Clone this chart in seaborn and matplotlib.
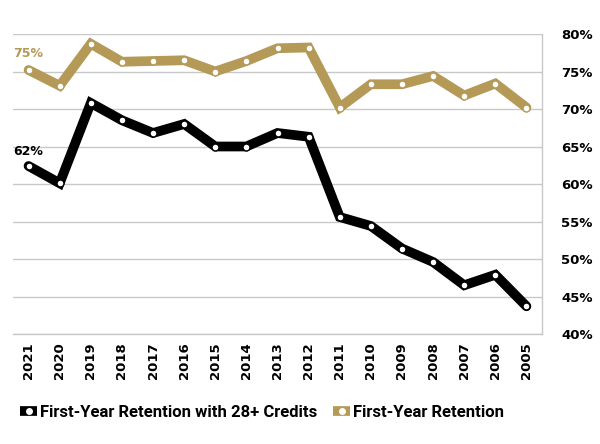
import matplotlib
matplotlib.use("Agg")
import matplotlib.pyplot as plt
import seaborn as sns
import pandas as pd

years = list(range(2005, 2022))
retention = [70.2, 73.4, 71.8, 74.4, 73.3, 73.3, 70.2, 78.2, 78.1, 76.4, 75.0, 76.5, 76.4, 76.3, 78.7, 73.1, 75.2]
retention_28 = [43.7, 47.9, 46.5, 49.6, 51.4, 54.4, 55.6, 66.3, 66.8, 65.0, 65.0, 68.0, 66.8, 68.5, 70.8, 60.1, 62.4]
series_names = ["First-Year Retention with 28+ Credits", "First-Year Retention"]
yticks = [40, 45, 50, 55, 60, 65, 70, 75, 80]

gold = "#B59A57"
black = "#000000"

df = pd.DataFrame({
    "Year": years * 2,
    "Value": retention_28 + retention,
    "Series": [series_names[0]] * len(years) + [series_names[1]] * len(years),
})

sns.set_theme(style="white")
fig = plt.figure(figsize=(6, 4.44), dpi=100)
ax = fig.add_axes([13 / 600, 1 - 334 / 444, (542 - 13) / 600, 300 / 444])

sns.lineplot(data=df, x="Year", y="Value", hue="Series", hue_order=series_names,
             palette=[black, gold], ax=ax, linewidth=7, marker="o",
             markersize=5, markerfacecolor="white", markeredgewidth=1.0,
             legend=True)
for line, col in zip(ax.get_lines(), [black, gold]):
    line.set_markeredgecolor(col)
    line.set_solid_joinstyle("miter")

ax.set_xlim(2021.5, 2004.5)
ax.set_ylim(40, 80)
ax.set_xticks(years)
ax.set_xticklabels([str(y) for y in years], rotation=90, fontsize=9.5,
                   fontweight="bold", family="DejaVu Sans", color="black")
ax.set_yticks(yticks)
ax.set_yticklabels([f"{v}%" for v in yticks], fontsize=9.5, fontweight="bold",
                   family="DejaVu Sans", color="black")
ax.yaxis.tick_right()
ax.tick_params(axis="y", length=0, pad=14)
ax.tick_params(axis="x", length=0, pad=6)
ax.grid(axis="y", color="#c8c8c8", linewidth=1)
ax.set_axisbelow(True)
for s in ["top", "left"]:
    ax.spines[s].set_visible(False)
for s in ["right", "bottom"]:
    ax.spines[s].set_color("#c8c8c8")
    ax.spines[s].set_linewidth(1)
ax.set_xlabel("")
ax.set_ylabel("")

ax.annotate(f"{round(retention[-1])}%", (years[-1], retention[-1]), xytext=(0, 7),
            textcoords="offset points", ha="center", va="bottom", color=gold,
            fontsize=9, fontweight="bold", family="DejaVu Sans")
ax.annotate(f"{round(retention_28[-1])}%", (years[-1], retention_28[-1]), xytext=(0, 6),
            textcoords="offset points", ha="center", va="bottom", color=black,
            fontsize=9, fontweight="bold", family="DejaVu Sans")

handles, labels = ax.get_legend_handles_labels()
for h in handles:
    h.set_solid_capstyle("butt")
    h.set_markersize(4)
ax.legend_.remove()
leg = fig.legend(handles, labels, loc="center", bbox_to_anchor=(262 / 600, 1 - 412 / 444),
                 ncol=2, frameon=False, handlelength=1.0, handletextpad=0.15,
                 columnspacing=1.0,
                 prop={"family": ["Roboto", "DejaVu Sans"], "weight": "bold", "size": 12})
for t in leg.get_texts():
    t.set_color("black")

fig.savefig("out.png", dpi=100)
